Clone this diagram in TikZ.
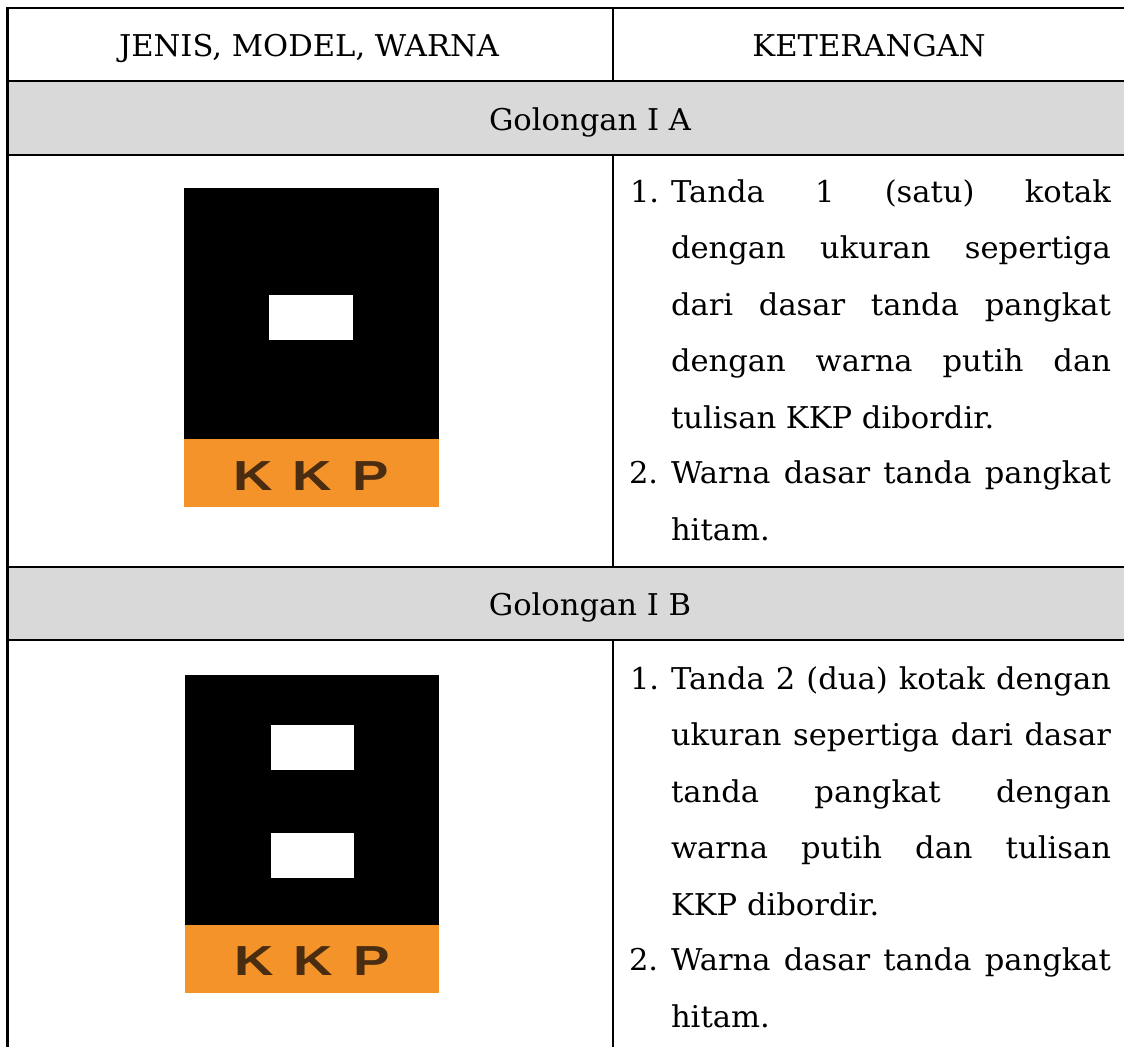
\documentclass[tikz,border=0pt]{standalone}
\usepackage{fontspec}
\setmainfont{DejaVu Serif}[FakeStretch=1.02]
\newfontfamily\kkpfont{Liberation Sans}[FakeStretch=1.3]
\definecolor{rowgray}{HTML}{D9D9D9}
\definecolor{kkporange}{HTML}{F39329}
\definecolor{kkptext}{HTML}{4A2C10}
\tikzset{
  x=1pt,y=-1pt,
  rule/.style={line width=2.4pt,black},
  cell/.style={inner sep=0pt,outer sep=0pt,font=\fontsize{30}{30}\selectfont,anchor=base},
  ln/.style={inner sep=0pt,outer sep=0pt,font=\fontsize{30}{30}\selectfont,anchor=base west},
  kkp/.style={inner sep=0pt,outer sep=0pt,text=kkptext,anchor=base,font=\kkpfont\bfseries\fontsize{42}{42}\selectfont},
}
\newcommand{\jl}[1]{\makebox[440pt][s]{#1}}
\begin{document}
\begin{tikzpicture}
\useasboundingbox (0,0) rectangle (1124,1047);
\fill[white] (0,0) rectangle (1124,1047);
\fill[rowgray] (7,81) rectangle (1124,155);
\fill[rowgray] (7,567) rectangle (1124,640);
% insignia 1
\fill[black] (184,188) rectangle (439,439);
\fill[kkporange] (184,439) rectangle (439,507);
\fill[white] (269,295) rectangle (353,340);
\node[kkp] (k1) at (311,490) {\makebox[156pt][s]{K\hfill K\hfill P}};
% insignia 2
\fill[black] (185,675) rectangle (439,925);
\fill[kkporange] (185,925) rectangle (439,993);
\fill[white] (271,725) rectangle (354,770);
\fill[white] (271,833) rectangle (354,878);
\node[kkp] (k2) at (312,975) {\makebox[156pt][s]{K\hfill K\hfill P}};
% rules
\draw[rule] (6.5,8) -- (1124,8);
\draw[rule] (6.5,81) -- (1124,81);
\draw[rule] (6.5,155) -- (1124,155);
\draw[rule] (6.5,567) -- (1124,567);
\draw[rule] (6.5,640) -- (1124,640);
\draw[rule] (7.5,7) -- (7.5,1047);
\draw[rule] (613,8) -- (613,81);
\draw[rule] (613,155) -- (613,567);
\draw[rule] (613,640) -- (613,1047);
% text
\node[cell] (h1) at (309,56) {JENIS, MODEL, WARNA};
\node[cell] (h2) at (869,56) {KETERANGAN};
\node[cell] (g1) at (590,130) {Golongan I A};
\node[cell] (g2) at (590,615) {Golongan I B};
\node[ln] (n1) at (630,202) {1.};
\node[ln] (a1) at (671,202) {\jl{Tanda\hfill 1\hfill (satu)\hfill kotak}};
\node[ln] (a2) at (671,258) {\jl{dengan\hfill ukuran\hfill sepertiga}};
\node[ln] (a3) at (671,315) {\jl{dari\hfill dasar\hfill tanda\hfill pangkat}};
\node[ln] (a4) at (671,371) {\jl{dengan\hfill warna\hfill putih\hfill dan}};
\node[ln] (a5) at (671,428) {tulisan KKP dibordir.};
\node[ln] (n2) at (629,483) {2.};
\node[ln] (a6) at (671,483) {\jl{Warna\hfill dasar\hfill tanda\hfill pangkat}};
\node[ln] (a7) at (671,540) {hitam.};
\node[ln] (n3) at (630,689) {1.};
\node[ln] (b1) at (671,689) {\jl{Tanda\hfill 2\hfill (dua)\hfill kotak\hfill dengan}};
\node[ln] (b2) at (671,745) {\jl{ukuran\hfill sepertiga\hfill dari\hfill dasar}};
\node[ln] (b3) at (671,802) {\jl{tanda\hfill pangkat\hfill dengan}};
\node[ln] (b4) at (671,858) {\jl{warna\hfill putih\hfill dan\hfill tulisan}};
\node[ln] (b5) at (671,915) {KKP dibordir.};
\node[ln] (n4) at (629,970) {2.};
\node[ln] (b6) at (671,970) {\jl{Warna\hfill dasar\hfill tanda\hfill pangkat}};
\node[ln] (b7) at (671,1027) {hitam.};
\end{tikzpicture}
\end{document}
